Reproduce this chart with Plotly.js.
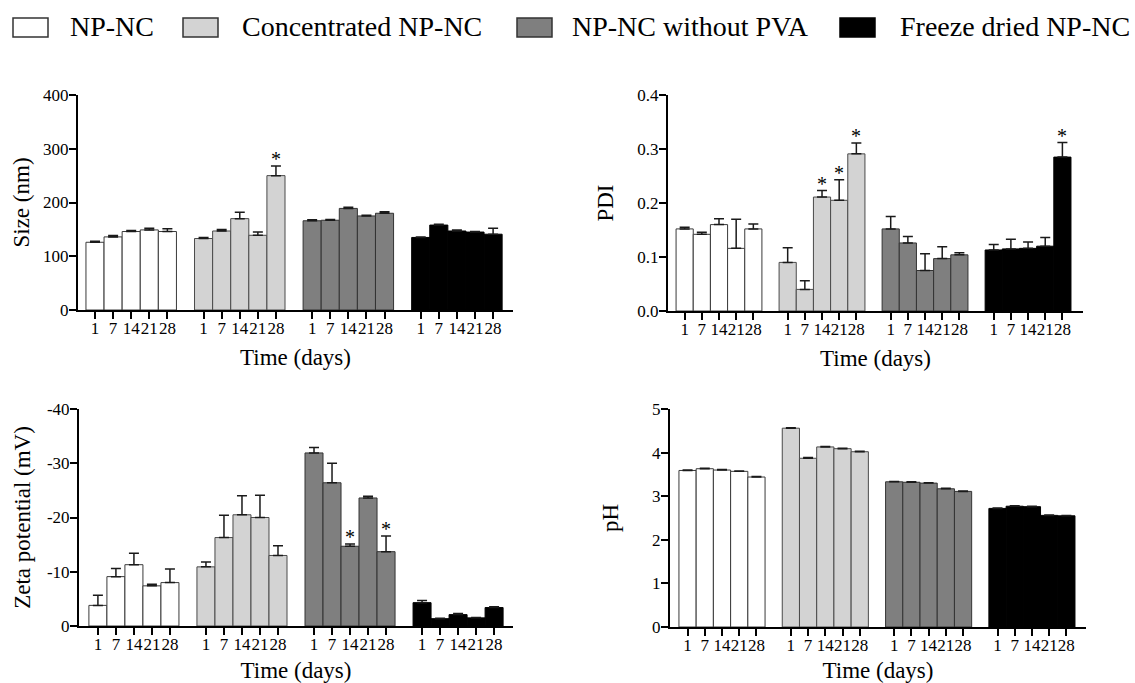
<!DOCTYPE html>
<html>
<head>
<meta charset="utf-8">
<script src="https://cdn.plot.ly/plotly-3.0.1.min.js"></script>
<style>html,body{margin:0;padding:0;background:#fff;}#chart{width:1135px;height:683px;}</style>
</head>
<body>
<div id="chart"></div>
<script>
// ---- data ----
const groups = ['NP-NC', 'Concentrated NP-NC', 'NP-NC without PVA', 'Freeze dried NP-NC'];
const days = ['1', '7', '14', '21', '28'];

const sizeMean = [[126,136,146,149,146],[133,147,170,139,250],[166,167,189,175,180],[135,158,147,145,141]];
const sizeErr  = [[2,2.5,2,3,5],[2,3,12,6,18],[2,1.5,2,1.5,3],[1,1.5,2,1,11]];
const sizeSig  = [[0,0,0,0,0],[0,0,0,0,1],[0,0,0,0,0],[0,0,0,0,0]];

const pdiMean = [[0.152,0.142,0.160,0.116,0.152],[0.090,0.040,0.211,0.205,0.291],[0.152,0.126,0.075,0.097,0.104],[0.113,0.115,0.116,0.120,0.285]];
const pdiErr  = [[0.003,0.004,0.011,0.054,0.009],[0.027,0.016,0.012,0.038,0.020],[0.023,0.012,0.031,0.022,0.004],[0.010,0.018,0.012,0.016,0.027]];
const pdiSig  = [[0,0,0,0,0],[0,0,1,1,1],[0,0,0,0,0],[0,0,0,0,1]];

const zetaMean = [[-3.8,-9.1,-11.3,-7.4,-8.0],[-10.9,-16.3,-20.5,-20.0,-13.0],[-31.9,-26.4,-14.7,-23.6,-13.7],[-4.3,-1.35,-2.1,-1.5,-3.4]];
const zetaErr  = [[1.85,1.5,2.1,0.3,2.5],[0.9,4.1,3.5,4.1,1.8],[1.0,3.6,0.4,0.3,2.9],[0.4,0.1,0.2,0.05,0.15]];
const zetaSig  = [[0,0,0,0,0],[0,0,0,0,0],[0,0,1,0,1],[0,0,0,0,0]];

const phMean = [[3.59,3.63,3.60,3.57,3.44],[4.56,3.87,4.13,4.09,4.02],[3.33,3.32,3.30,3.17,3.11],[2.72,2.77,2.76,2.56,2.55]];
const phErr  = [[0.01,0.01,0.01,0.01,0.01],[0.01,0.02,0.01,0.01,0.01],[0.01,0.01,0.01,0.01,0.01],[0.01,0.01,0.01,0.01,0.01]];
const phSig  = [[0,0,0,0,0],[0,0,0,0,0],[0,0,0,0,0],[0,0,0,0,0]];

const sizeTicks = [0,100,200,300,400];
const pdiTicks = [0,0.1,0.2,0.3,0.4];
const zetaTicks = [0,-10,-20,-30,-40];
const zetaTickText = ['0','-10','-20','-30','-40'];
const phTicks = [0,1,2,3,4,5];

// ---- style ----
const FONT = 'Liberation Serif';
const fills = ['#ffffff', '#d3d3d3', '#7f7f7f', '#000000'];
const edges = ['#3a3a3a', '#4a4a4a', '#333333', '#000000'];
const W = 1135, H = 683;

const panels = [
  {mean: sizeMean, err: sizeErr, sig: sizeSig, title: 'Size (nm)', ticks: sizeTicks, tickText: ['0','100','200','300','400'], yrange: [0,400], px: [78,513], py: [95,310], xr: [-0.94,23.1], neg: false, ts: 7},
  {mean: pdiMean, err: pdiErr, sig: pdiSig, title: 'PDI', ticks: pdiTicks, tickText: ['0.0','0.1','0.2','0.3','0.4'], yrange: [0,0.4], px: [668,1083], py: [95,311], xr: [-0.97,23.2], neg: false, ts: 17},
  {mean: zetaMean, err: zetaErr, sig: zetaSig, title: 'Zeta potential (mV)', ticks: zetaTicks, tickText: zetaTickText, yrange: [0,-40], px: [79,513], py: [409,626], xr: [-1.05,23.05], neg: true, ts: 10},
  {mean: phMean, err: phErr, sig: phSig, title: 'pH', ticks: phTicks, tickText: ['0','1','2','3','4','5'], yrange: [0,5], px: [670,1086], py: [409,627], xr: [-1.02,23.14], neg: false, ts: 27}
];

const traces = [];
const annotations = [];
const shapes = [];
const layout = {
  width: W, height: H,
  margin: {l: 0, r: 0, t: 0, b: 0},
  paper_bgcolor: '#ffffff', plot_bgcolor: '#ffffff',
  font: {family: FONT, color: '#000'},
  showlegend: false,
  bargap: 0
};

const tickPos = [];
const tickLab = [];
for (let g = 0; g < groups.length; g++) {
  for (let i = 0; i < days.length; i++) { tickPos.push(g * 6 + i); tickLab.push(days[i]); }
}

panels.forEach((p, k) => {
  const n = k === 0 ? '' : String(k + 1);
  const xa = 'x' + n, ya = 'y' + n;
  for (let g = 0; g < groups.length; g++) {
    const xs = days.map((d, i) => g * 6 + i);
    traces.push({
      type: 'bar', name: groups[g], x: xs, y: p.mean[g], width: 1,
      xaxis: xa, yaxis: ya,
      marker: {color: fills[g], line: {color: edges[g], width: 1}},
      error_y: p.neg
        ? {type: 'data', symmetric: false, array: p.err[g].map(() => 0), arrayminus: p.err[g], color: '#1a1a1a', thickness: 1.5, width: 5}
        : {type: 'data', symmetric: false, array: p.err[g], arrayminus: p.err[g].map(() => 0), color: '#1a1a1a', thickness: 1.5, width: 5},
      showlegend: false, hoverinfo: 'x+y'
    });
    p.sig[g].forEach((s, i) => {
      if (s) {
        annotations.push({
          xref: xa, yref: ya, x: g * 6 + i,
          y: p.neg ? p.mean[g][i] - p.err[g][i] : p.mean[g][i] + p.err[g][i],
          text: '*', showarrow: false, yanchor: 'bottom', yshift: -6,
          font: {family: FONT, size: 20, color: '#000'}
        });
      }
    });
  }
  layout['xaxis' + n] = {
    domain: [p.px[0] / W, p.px[1] / W], anchor: ya, range: p.xr,
    showline: true, linewidth: 2, linecolor: '#000', showgrid: false, zeroline: false,
    ticks: 'outside', ticklen: 7, tickwidth: 2, tickcolor: '#000',
    tickmode: 'array', tickvals: tickPos, ticktext: tickLab, tickangle: 0,
    ticklabelstandoff: -5,
    tickfont: {family: FONT, size: 17, color: '#000'},
    title: {text: 'Time (days)', font: {family: FONT, size: 23, color: '#000'}, standoff: 11},
    fixedrange: true
  };
  layout['yaxis' + n] = {
    domain: [1 - p.py[1] / H, 1 - p.py[0] / H], anchor: xa, range: p.yrange,
    showline: true, linewidth: 2, linecolor: '#000', showgrid: false, zeroline: false,
    ticks: 'outside', ticklen: 7, tickwidth: 2, tickcolor: '#000',
    tickmode: 'array', tickvals: p.ticks, ticktext: p.tickText,
    ticklabelstandoff: -3,
    tickfont: {family: FONT, size: 17, color: '#000'},
    title: {text: p.title, font: {family: FONT, size: 23, color: '#000'}, standoff: p.ts},
    fixedrange: true
  };
});

// ---- legend (drawn at top) ----
const legBoxX = [13, 183, 517, 840];
const legTextX = [68, 240, 570, 898];
groups.forEach((name, g) => {
  shapes.push({
    type: 'rect', xref: 'paper', yref: 'paper',
    x0: legBoxX[g] / W, x1: (legBoxX[g] + 35) / W, y0: 1 - 37 / H, y1: 1 - 18 / H,
    fillcolor: fills[g], line: {color: g === 3 ? '#000' : '#333', width: 1.5}
  });
  annotations.push({
    xref: 'paper', yref: 'paper', x: legTextX[g] / W, y: 1 - 27 / H,
    xanchor: 'left', yanchor: 'middle', text: name, showarrow: false,
    font: {family: FONT, size: 28, color: '#000'}
  });
});

layout.annotations = annotations;
layout.shapes = shapes;

Plotly.newPlot('chart', traces, layout, {displayModeBar: false, staticPlot: true});
</script>
</body>
</html>
